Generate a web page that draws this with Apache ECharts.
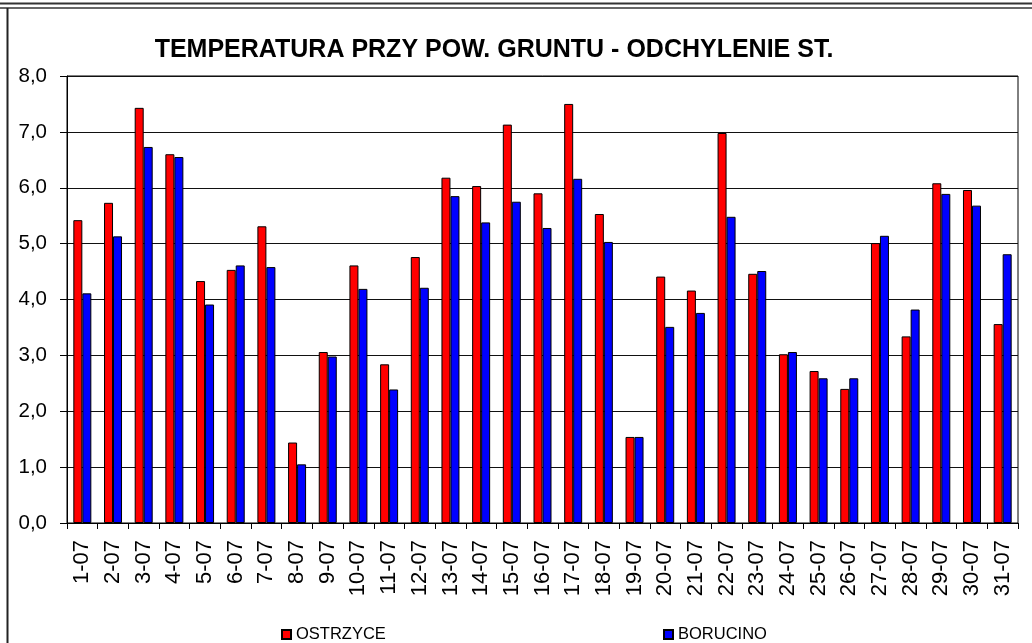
<!DOCTYPE html>
<html>
<head>
<meta charset="utf-8">
<script src="https://cdn.jsdelivr.net/npm/echarts@6/dist/echarts.min.js"></script>
<style>
html, body { margin: 0; padding: 0; background: #fff; }
#chart { width: 1032px; height: 643px; }
</style>
</head>
<body>
<div id="chart"></div>
<script>
var days = ['1-07', '2-07', '3-07', '4-07', '5-07', '6-07', '7-07', '8-07', '9-07', '10-07',
	'11-07', '12-07', '13-07', '14-07', '15-07', '16-07', '17-07', '18-07', '19-07', '20-07',
	'21-07', '22-07', '23-07', '24-07', '25-07', '26-07', '27-07', '28-07', '29-07', '30-07', '31-07'];
var ostrzyce = [5.42, 5.73, 7.43, 6.60, 4.33, 4.53, 5.31, 1.44, 3.06, 4.61,
	2.84, 4.76, 6.18, 6.03, 7.13, 5.90, 7.50, 5.53, 1.54, 4.41,
	4.16, 6.98, 4.46, 3.02, 2.72, 2.40, 5.01, 3.34, 6.08, 5.96, 3.56];
var borucino = [4.11, 5.13, 6.73, 6.55, 3.91, 4.61, 4.58, 1.05, 2.98, 4.19,
	2.39, 4.21, 5.85, 5.38, 5.75, 5.28, 6.16, 5.03, 1.54, 3.51,
	3.76, 5.48, 4.51, 3.06, 2.59, 2.59, 5.14, 3.82, 5.89, 5.68, 4.81];
var yTicks = [0, 1, 2, 3, 4, 5, 6, 7, 8];

var dom = document.getElementById('chart');
var myChart = echarts.init(dom);
var font = 'Liberation Sans, Arial, sans-serif';

var option = {
	animation: false,
	backgroundColor: '#fff',
	title: {
		text: 'TEMPERATURA PRZY POW. GRUNTU - ODCHYLENIE ST.',
		left: 489,
		textAlign: 'center',
		top: 33,
		textStyle: { fontFamily: font, fontSize: 25, fontWeight: 'bold', color: '#000' }
	},
	legend: [{
		data: ['OSTRZYCE'],
		left: 276,
		top: 621,
		itemWidth: 9,
		itemHeight: 9,
		icon: 'rect',
		textStyle: { fontFamily: font, fontSize: 16.5, color: '#000' }
	}, {
		data: ['BORUCINO'],
		left: 658,
		top: 621,
		itemWidth: 9,
		itemHeight: 9,
		icon: 'rect',
		textStyle: { fontFamily: font, fontSize: 16.5, color: '#000' }
	}],
	grid: {
		left: 67,
		right: 14,
		top: 76,
		bottom: 120,
		show: true,
		borderColor: '#000',
		borderWidth: 1
	},
	xAxis: {
		type: 'category',
		data: days,
		axisLine: { lineStyle: { color: '#000', width: 1 } },
		axisTick: { show: true, length: 6, lineStyle: { color: '#000' } },
		axisLabel: {
			rotate: 90,
			margin: 17,
			interval: 0,
			fontFamily: font,
			fontSize: 22,
			color: '#000'
		},
		splitLine: { show: false }
	},
	yAxis: {
		type: 'value',
		min: 0,
		max: 8,
		interval: 1,
		axisLine: { show: true, lineStyle: { color: '#000', width: 1 } },
		axisTick: { show: true, length: 7, lineStyle: { color: '#000' } },
		axisLabel: {
			margin: 20,
			fontFamily: font,
			fontSize: 20.5,
			color: '#000',
			formatter: function (v) {
				return yTicks.indexOf(v) >= 0 ? v.toFixed(1).replace('.', ',') : '';
			}
		},
		splitLine: { show: true, lineStyle: { color: '#111', width: 1.2 } }
	},
	series: [{
		name: 'OSTRZYCE',
		type: 'bar',
		data: ostrzyce,
		barWidth: 9,
		barGap: '0%',
		itemStyle: { color: '#ff0000', borderColor: '#000', borderWidth: 1 }
	}, {
		name: 'BORUCINO',
		type: 'bar',
		data: borucino,
		barWidth: 9,
		barGap: '0%',
		itemStyle: { color: '#0000ff', borderColor: '#000', borderWidth: 1 }
	}],
	graphic: [
		{ type: 'line', shape: { x1: 0, y1: 3.5, x2: 1032, y2: 3.5 }, style: { stroke: '#333', lineWidth: 2 } },
		{ type: 'line', shape: { x1: 0, y1: 8, x2: 1032, y2: 8 }, style: { stroke: '#333', lineWidth: 1.5 } },
		{ type: 'line', shape: { x1: 7.5, y1: 8, x2: 7.5, y2: 643 }, style: { stroke: '#222', lineWidth: 2 } }
	]
};

if (option && typeof option === "object") {
	myChart.setOption(option, true);
}
window.addEventListener('resize', function () {
	myChart.resize();
});
</script>
</body>
</html>
